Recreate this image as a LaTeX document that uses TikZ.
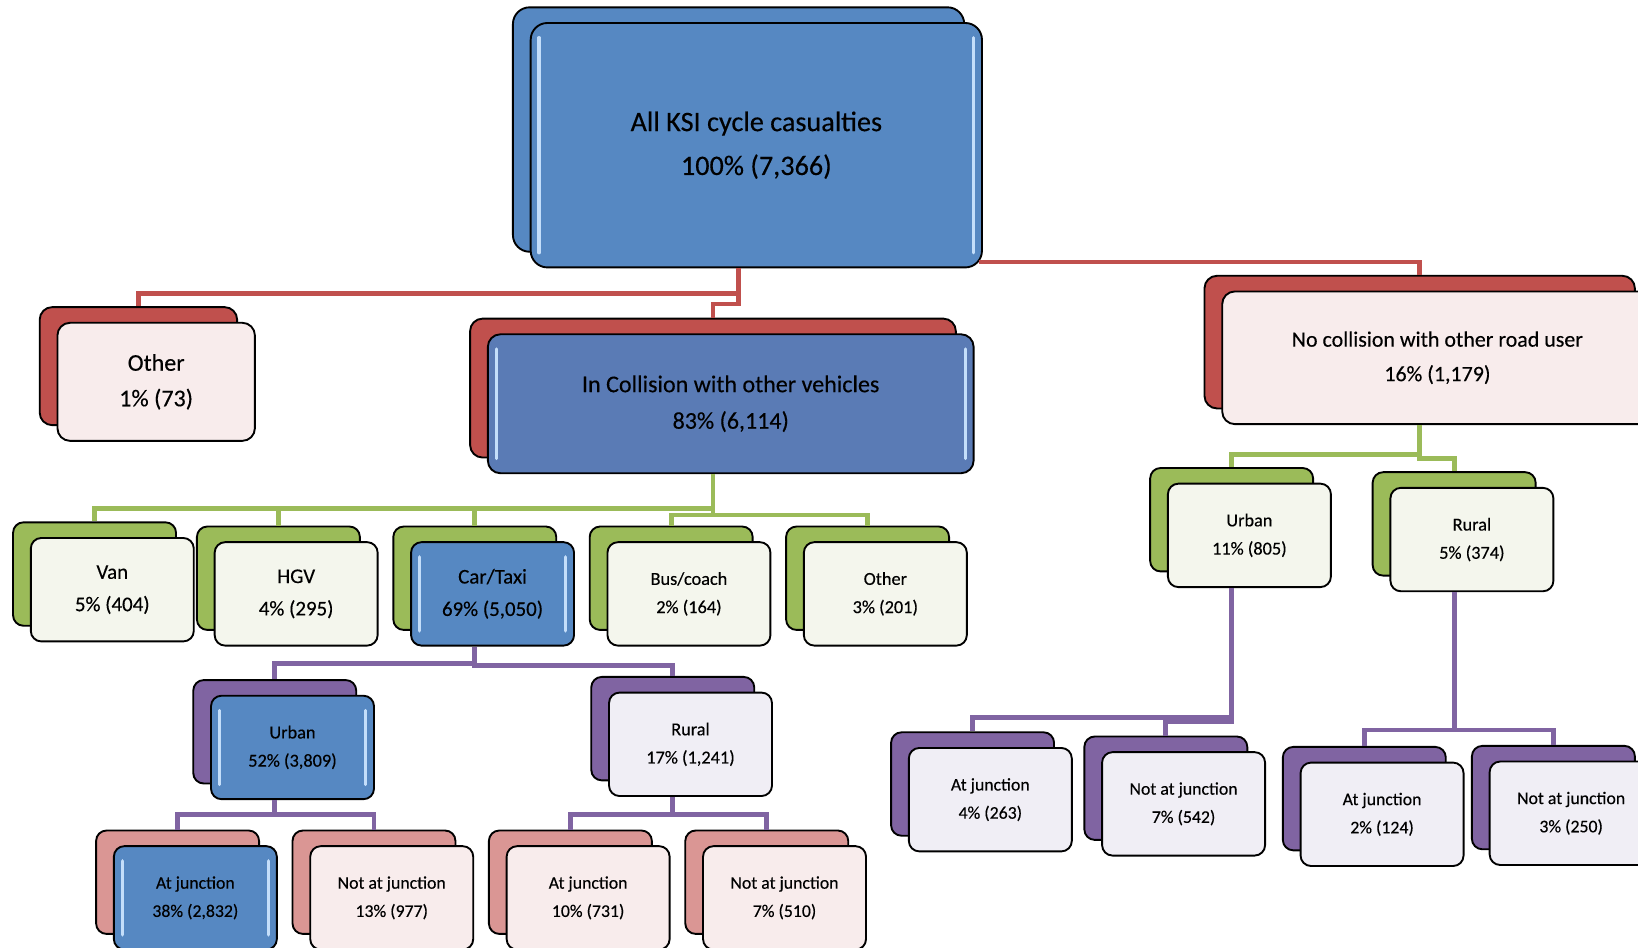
\documentclass[tikz,border=0pt]{standalone}
\usepackage{fontspec}
\setmainfont{Carlito}[FakeBold=0.3]
\usetikzlibrary{
		positioning,
		shadows
	}
\definecolor{ksired}{RGB}{192, 80, 77}
\definecolor{ksipink}{RGB}{218, 150, 148}
\definecolor{ksigreen}{RGB}{155, 187, 89}
\definecolor{ksipurple}{RGB}{128, 100, 162}
\definecolor{ksiblue}{RGB}{86, 136, 194}
\definecolor{ksinavy}{RGB}{90, 123, 181}
\definecolor{ksiglint}{RGB}{196, 222, 250}
\definecolor{palered}{RGB}{248, 236, 236}
\definecolor{palegreen}{RGB}{244, 246, 237}
\definecolor{palepurple}{RGB}{240, 238, 245}

\begin{document}
\begin{tikzpicture}
		[x=1pt, y=-1pt, node distance=188pt, on grid,
		box/.style= {draw=black, line width=1.8pt, rounded corners=10pt, inner sep=0pt, align=center,
			minimum width=156pt, minimum height=99pt, font=\fontsize{17}{27}\selectfont},
		back/.style= {general shadow={shadow xshift=-17pt, shadow yshift=15pt, fill=#1, draw=black, line width=1.8pt}},
		shine/.style= {path picture={
			\draw[ksiglint, line width=3pt, line cap=round]
				([xshift=8pt, yshift=-14pt]path picture bounding box.north west) -- ([xshift=8pt, yshift=14pt]path picture bounding box.south west)
				([xshift=-8pt, yshift=-14pt]path picture bounding box.north east) -- ([xshift=-8pt, yshift=14pt]path picture bounding box.south east);}},
		red link/.style= {draw=ksired, line width=4.5pt},
		green link/.style= {draw=ksigreen, line width=4.5pt},
		purple link/.style= {draw=ksipurple, line width=4.5pt}
		]

		\useasboundingbox (0,0) rectangle (1568,907);
		\clip (0,0) rectangle (1568,907);

		% top and first level
		\node [box, back=ksiblue, fill=ksiblue, shine, minimum width=432pt, minimum height=234pt, rounded corners=16pt,
			font=\fontsize{27}{42}\selectfont] (all) at (724,139) {All KSI cycle casualties\\100\% (7,366)};

		\node [box, back=ksired, fill=palered, minimum width=189pt, minimum height=113pt, rounded corners=12pt,
			font=\fontsize{23}{34}\selectfont] (other) at (149.5,365.5) {Other\\1\% (73)};
		\node [box, back=ksired, fill=ksinavy, shine, minimum width=465pt, minimum height=133pt, rounded corners=12pt,
			font=\fontsize{23}{35}\selectfont] (coll) at (699.5,386.5) {In Collision with other vehicles\\83\% (6,114)};
		\node [box, back=ksired, fill=palered, minimum width=412pt, minimum height=127pt, rounded corners=12pt,
			font=\fontsize{21}{33}\selectfont] (nocoll) at (1376,342.5) {No collision with other road user\\16\% (1,179)};

		% vehicles
		\node [box, back=ksigreen, fill=ksiblue, shine, font=\fontsize{20}{31}\selectfont] (car) at (471.5,568.5) {Car/Taxi\\69\% (5,050)};
			\node [box, back=ksigreen, fill=palegreen, font=\fontsize{20}{31}\selectfont] (hgv) [left=of car] {HGV\\4\% (295)};
			\node [box, back=ksigreen, fill=palegreen, font=\fontsize{20}{31}\selectfont] (van) [left=of hgv, xshift=12pt, yshift=4pt] {Van\\5\% (404)};
			\node [box, back=ksigreen, fill=palegreen, font=\fontsize{17.5}{27}\selectfont] (bus) [right=of car] {Bus/coach\\2\% (164)};
			\node [box, back=ksigreen, fill=palegreen, font=\fontsize{17.5}{27}\selectfont] (other2) [right=of bus] {Other\\3\% (201)};

		\node [box, back=ksigreen, fill=palegreen, font=\fontsize{17.5}{27}\selectfont] (urbanR) at (1196,512.5) {Urban\\11\% (805)};
			\node [box, back=ksigreen, fill=palegreen, font=\fontsize{17.5}{27}\selectfont] (ruralR) [right=of urbanR, xshift=25pt, yshift=-4pt] {Rural\\5\% (374)};

		% urban / rural under car
		\node [box, back=ksipurple, fill=ksiblue, shine, font=\fontsize{17.5}{27}\selectfont] (urbanL) at (280,715.5) {Urban\\52\% (3,809)};
		\node [box, back=ksipurple, fill=palepurple, font=\fontsize{17.5}{27}\selectfont] (ruralL) at (661,712.5) {Rural\\17\% (1,241)};

		% junctions
		\node [box, back=ksipink, fill=ksiblue, shine] (ajA) at (187,859.5) {At junction\\38\% (2,832)};
			\node [box, back=ksipink, fill=palered] (njA) [right=of ajA] {Not at junction\\13\% (977)};
			\node [box, back=ksipink, fill=palered] (ajB) [right=of njA] {At junction\\10\% (731)};
			\node [box, back=ksipink, fill=palered] (njB) [right=of ajB] {Not at junction\\7\% (510)};

		\node [box, back=ksipurple, fill=palepurple] (aj1) at (948,765.5) {At junction\\4\% (263)};
			\node [box, back=ksipurple, fill=palepurple] (nj1) [right=of aj1, xshift=-3pt, yshift=-4pt] {Not at junction\\7\% (542)};
		\node [box, back=ksipurple, fill=palepurple] (aj2) at (1323,779.5) {At junction\\2\% (124)};
			\node [box, back=ksipurple, fill=palepurple] (nj2) [right=of aj2, xshift=-7pt, yshift=1pt] {Not at junction\\3\% (250)};

		% links
		\draw [red link] ([xshift=-17pt]all.south) -- ++(0,24) -| ([xshift=-17pt, yshift=15pt]other.north);
		\draw [red link] ([xshift=-17pt]all.south) -- ++(0,34) -| ([xshift=-17pt, yshift=15pt]coll.north);
		\draw [red link] ([xshift=-4pt, yshift=6pt]all.south east) -| ([xshift=-17pt, yshift=15pt]nocoll.north);

		\foreach \n in {van, hgv, car}
			\draw [green link] ([xshift=-17pt]coll.south) -- ++(0,33) -| ([xshift=-17pt, yshift=15pt]\n.north);
		\foreach \n in {bus, other2}
			\draw [green link] ([xshift=-17pt]coll.south) -- ++(0,39) -| ([xshift=-17pt, yshift=15pt]\n.north);
		\foreach \n/\d in {urbanR/28, ruralR/32}
			\draw [green link] ([xshift=-17pt]nocoll.south) -- ++(0,\d) -| ([xshift=-17pt, yshift=15pt]\n.north);

		\foreach \n/\d in {urbanL/16, ruralL/18}
			\draw [purple link] ([xshift=-17pt]car.south) -- ++(0,\d) -| ([xshift=-17pt, yshift=15pt]\n.north);
		\foreach \n in {ajA, njA}
			\draw [purple link] ([xshift=-17pt]urbanL.south) -- ++(0,14) -| ([xshift=-17pt, yshift=15pt]\n.north);
		\foreach \n in {ajB, njB}
			\draw [purple link] ([xshift=-17pt]ruralL.south) -- ++(0,17) -| ([xshift=-17pt, yshift=15pt]\n.north);
		\foreach \n/\d in {aj1/124, nj1/128}
			\draw [purple link] ([xshift=-17pt]urbanR.south) -- ++(0,\d) -| ([xshift=-17pt, yshift=15pt]\n.north);
		\foreach \n in {aj2, nj2}
			\draw [purple link] ([xshift=-17pt]ruralR.south) -- ++(0,132) -| ([xshift=-17pt, yshift=15pt]\n.north);

	\end{tikzpicture}
\end{document}
